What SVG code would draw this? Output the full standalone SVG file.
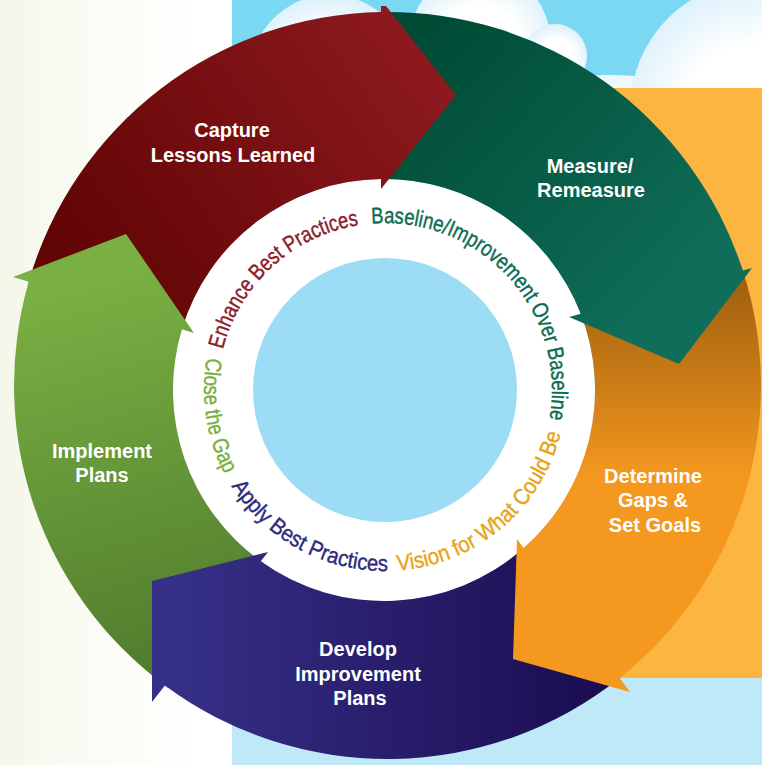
<svg xmlns="http://www.w3.org/2000/svg" width="762" height="765" viewBox="0 0 762 765">
<defs>
  <linearGradient id="bgLeft" gradientUnits="userSpaceOnUse" x1="24" y1="0" x2="200" y2="0">
    <stop offset="0" stop-color="#f7f9ee"/><stop offset="1" stop-color="#ffffff"/>
  </linearGradient>
  <radialGradient id="cloud" cx="0.5" cy="0.55" r="0.55">
    <stop offset="0.55" stop-color="#ffffff"/><stop offset="1" stop-color="#dcf1fb"/>
  </radialGradient>
  <linearGradient id="gRed" gradientUnits="userSpaceOnUse" x1="420" y1="60" x2="90" y2="300">
    <stop offset="0" stop-color="#8c191e"/><stop offset="1" stop-color="#600404"/>
  </linearGradient>
  <linearGradient id="gDkGreen" gradientUnits="userSpaceOnUse" x1="400" y1="40" x2="680" y2="300">
    <stop offset="0" stop-color="#004a34"/><stop offset="1" stop-color="#0f6e59"/>
  </linearGradient>
  <linearGradient id="gOrange" gradientUnits="userSpaceOnUse" x1="0" y1="280" x2="0" y2="480">
    <stop offset="0" stop-color="#a0600f"/><stop offset="1" stop-color="#f5981f"/>
  </linearGradient>
  <linearGradient id="gPurple" gradientUnits="userSpaceOnUse" x1="170" y1="0" x2="620" y2="0">
    <stop offset="0" stop-color="#363088"/><stop offset="1" stop-color="#1a0b4e"/>
  </linearGradient>
  <linearGradient id="gLtGreen" gradientUnits="userSpaceOnUse" x1="60" y1="290" x2="170" y2="690">
    <stop offset="0" stop-color="#7aaf43"/><stop offset="1" stop-color="#4e7a2b"/>
  </linearGradient>
  <path id="pEnhance" d="M222.96,349.6 A167,167 0 0 1 385,223"/>
  <path id="pBaseline" d="M371.61,223.54 A167,167 0 0 1 546.31,433.22"/>
  <path id="pClose" d="M206.92,357.64 A181,181 0 0 0 246.35,506.35"/>
  <path id="pApply" d="M231.5,485.92 A181,181 0 0 0 416.43,568.25"/>
  <path id="pVision" d="M397.63,570.56 A181,181 0 0 0 565.31,405.78"/>
</defs>
<style>
  .lbl{font-family:"Liberation Sans",Arial,sans-serif;font-weight:bold;font-size:20px;fill:#ffffff;text-anchor:middle}
  .ring{font-family:"Liberation Sans Narrow","Liberation Sans",Arial,sans-serif;font-size:22.5px;stroke-width:0.4px}
</style>

<g id="background">
  <rect width="762" height="765" fill="#ffffff"/>
  <rect x="0" y="0" width="24" height="765" fill="#f4f7ea"/>
  <rect x="24" y="0" width="208" height="765" fill="url(#bgLeft)"/>
  <rect x="232" y="0" width="530" height="400" fill="#7bd8f2"/>
  <rect x="232" y="400" width="530" height="365" fill="#bfe8f8"/>
  <circle cx="330" cy="75" r="80" fill="url(#cloud)"/>
  <circle cx="480" cy="40" r="70" fill="url(#cloud)"/>
  <circle cx="555" cy="56" r="32" fill="url(#cloud)"/>
  <ellipse cx="610" cy="84" rx="55" ry="9" fill="#eef8fd"/>
  <circle cx="760" cy="110" r="130" fill="url(#cloud)"/>
  <rect x="600" y="88" width="162" height="590" fill="#fbb540"/>
</g>

<g id="hub">
  <circle cx="384" cy="390" r="211" fill="#ffffff"/>
  <circle cx="385" cy="390" r="132" fill="#9cdcf4"/>
</g>

<g id="capture">
  <path d="M28.7,281.8 A373.5,373.5 0 0 1 381,12.06 L381,179 A211,211 0 0 0 181.9,329.3 Z" fill="url(#gRed)"/>
  <text class="lbl" x="232" y="137">Capture</text>
  <text class="lbl" x="233" y="162">Lessons Learned</text>
</g>
<g id="measure">
  <path d="M381,12.06 A373.5,373.5 0 0 1 742.8,270.5 L580.8,313.8 A211,211 0 0 0 381,179 Z" fill="url(#gDkGreen)"/>
  <text class="lbl" x="590" y="173">Measure/</text>
  <text class="lbl" x="591" y="197">Remeasure</text>
</g>
<g id="determine">
  <path d="M742.8,270.5 A373.5,373.5 0 0 1 619.7,678 L523.7,548.1 A211,211 0 0 0 580.8,313.8 Z" fill="url(#gOrange)"/>
  <text class="lbl" x="653" y="483">Determine</text>
  <text class="lbl" x="653" y="507">Gaps &amp;</text>
  <text class="lbl" x="655" y="532">Set Goals</text>
</g>
<g id="develop">
  <path d="M619.7,678 A373.5,373.5 0 0 1 164.9,685.4 L260.8,561.3 A211,211 0 0 0 523.7,548.1 Z" fill="url(#gPurple)"/>
  <text class="lbl" x="358" y="656">Develop</text>
  <text class="lbl" x="358" y="681">Improvement</text>
  <text class="lbl" x="360" y="705">Plans</text>
</g>
<g id="implement">
  <path d="M164.9,685.4 A373.5,373.5 0 0 1 28.7,281.8 L181.9,329.3 A211,211 0 0 0 260.8,561.3 Z" fill="url(#gLtGreen)"/>
  <text class="lbl" x="102" y="458">Implement</text>
  <text class="lbl" x="102" y="482">Plans</text>
</g>

<g id="connectors">
  <polygon points="381,6 386,6 456,95 381,189 381,179 377,179.06 377,12.13 381,12.06" fill="url(#gRed)"/>
  <polygon points="752,268 679,364 569,317 580.8,313.8 579.4,310.1 741.6,266.7 742.8,270.5" fill="url(#gDkGreen)"/>
  <polygon points="517,539 513,659 630,692 619.7,678 622.8,675.5 526.7,545.5 523.7,548.1" fill="url(#gOrange)"/>
  <polygon points="268,552 152,581 152,702 164.9,685.4 168.1,687.8 264,563.6 260.8,561.3" fill="url(#gPurple)"/>
  <polygon points="13,277 126,234 194,333 181.9,329.3 180.7,333.1 27.6,285.6 28.7,281.8" fill="url(#gLtGreen)"/>
</g>

<g id="ring-labels" class="ring">
  <text fill="#8b1a2b" stroke="#8b1a2b"><textPath href="#pEnhance" textLength="195" lengthAdjust="spacingAndGlyphs">Enhance Best Practices</textPath></text>
  <text fill="#0b6b4f" stroke="#0b6b4f"><textPath href="#pBaseline" textLength="305" lengthAdjust="spacingAndGlyphs">Baseline/Improvement Over Baseline</textPath></text>
  <text fill="#78b043" stroke="#78b043"><textPath href="#pClose" textLength="120" lengthAdjust="spacingAndGlyphs">Close the Gap</textPath></text>
  <text fill="#2e2a7e" stroke="#2e2a7e"><textPath href="#pApply" textLength="186" lengthAdjust="spacingAndGlyphs">Apply Best Practices</textPath></text>
  <text fill="#e6a519" stroke="#e6a519"><textPath href="#pVision" textLength="228" lengthAdjust="spacingAndGlyphs">Vision for What Could Be</textPath></text>
</g>
</svg>
